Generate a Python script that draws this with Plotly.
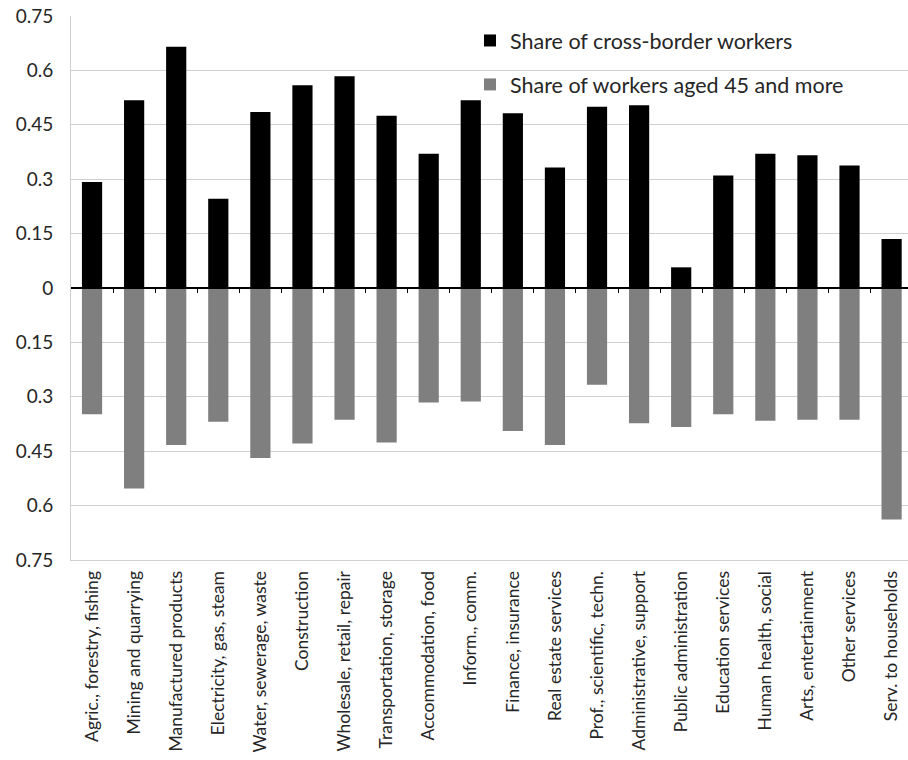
import plotly.graph_objects as go

categories = [
    "Agric., forestry, fishing", "Mining and quarrying", "Manufactured products",
    "Electricity, gas, steam", "Water, sewerage, waste", "Construction",
    "Wholesale, retail, repair", "Transportation, storage", "Accommodation, food",
    "Inform., comm.", "Finance, insurance", "Real estate services",
    "Prof., scientific, techn.", "Administrative, support", "Public administration",
    "Education services", "Human health, social", "Arts, entertainment",
    "Other services", "Serv. to households",
]
cross_border = [0.292, 0.518, 0.665, 0.246, 0.485, 0.559, 0.584, 0.475, 0.370,
                0.518, 0.482, 0.332, 0.500, 0.504, 0.057, 0.310, 0.370, 0.366,
                0.338, 0.135]
aged_45 = [0.348, 0.553, 0.433, 0.369, 0.469, 0.429, 0.363, 0.426, 0.316,
           0.313, 0.394, 0.433, 0.267, 0.373, 0.383, 0.348, 0.366, 0.363,
           0.363, 0.638]
tick_values = [0.75, 0.6, 0.45, 0.3, 0.15, 0, -0.15, -0.3, -0.45, -0.6, -0.75]
tick_labels = ["0.75", "0.6", "0.45", "0.3", "0.15", "0", "0.15", "0.3", "0.45", "0.6", "0.75"]

FONT = "Lato, Carlito, 'Open Sans', sans-serif"
TXT = "#262626"

fig = go.Figure()
fig.add_trace(go.Bar(x=categories, y=cross_border, name="Share of cross-border workers",
                     marker=dict(color="#000000", line=dict(width=0)), legendgroup="a"))
fig.add_trace(go.Bar(x=categories, y=[-v for v in aged_45], name="Share of workers aged 45 and more",
                     marker=dict(color="#7f7f7f", line=dict(width=0)), legendgroup="b"))

n = len(categories)
xr = [-0.5, n - 0.5 - 0.11]

fig.update_layout(
    width=908, height=760,
    margin=dict(l=71, r=0, t=16, b=200, autoexpand=False),
    paper_bgcolor="white", plot_bgcolor="white",
    barmode="relative", bargap=0.52,
    font=dict(family=FONT, color=TXT),
    showlegend=True,
    legend=dict(xref="container", yref="container", x=470 / 908, y=1 - 20 / 760,
                xanchor="left", yanchor="top", bgcolor="rgba(0,0,0,0)",
                font=dict(size=21.5, color=TXT), traceorder="grouped", tracegroupgap=13),
    xaxis=dict(range=xr, tickangle=-90, showgrid=False, showline=True,
               linecolor="#d0d0d0", linewidth=1, ticks="", ticklabelstandoff=3,
               tickfont=dict(size=17.5, color=TXT), mirror=False),
    xaxis2=dict(range=xr, overlaying="x", anchor="free", position=0.5, side="bottom",
                showline=True, linecolor="#000000", linewidth=1.5,
                tickmode="array", tickvals=[i + 0.5 for i in range(n)],
                ticks="outside", ticklen=4, tickcolor="#000000", tickwidth=1,
                showticklabels=False, showgrid=False, zeroline=False),
    yaxis=dict(range=[-0.75, 0.75], tickmode="array", tickvals=tick_values, ticktext=tick_labels,
               showgrid=True, gridcolor="#d0d0d0", gridwidth=1, zeroline=False,
               showline=True, linecolor="#d0d0d0", linewidth=1, ticks="",
               ticklabelstandoff=13, tickfont=dict(size=19, color=TXT)),
)
# invisible helper trace so the zero-line category axis is drawn
fig.add_trace(go.Scatter(x=[0], y=[0], xaxis="x2", mode="markers", marker=dict(opacity=0),
                         showlegend=False, hoverinfo="skip"))

fig.write_html("out.html", config={"displayModeBar": False},
               post_script="document.body.style.margin='0';")
